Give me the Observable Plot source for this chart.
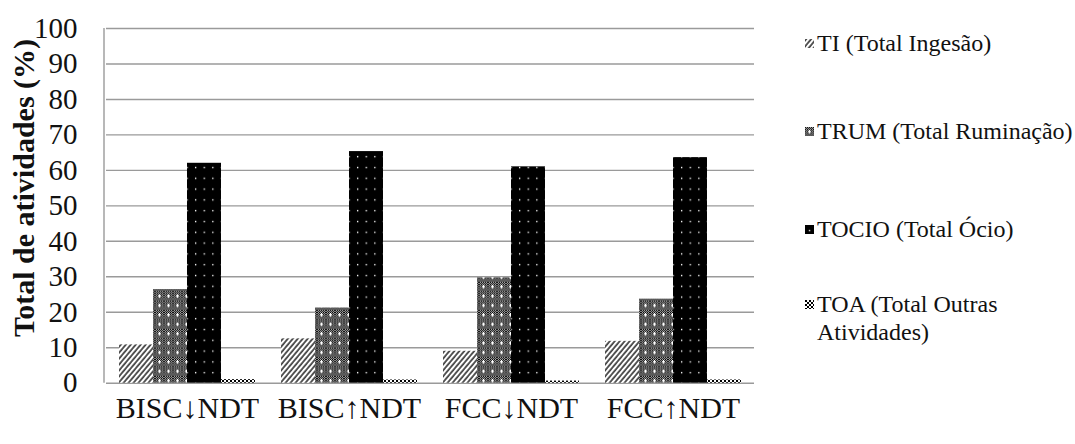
<!DOCTYPE html>
<html>
<head>
<meta charset="utf-8">
<script src="https://cdn.jsdelivr.net/npm/d3@7"></script>
<script src="https://cdn.jsdelivr.net/npm/@observablehq/plot@0.6"></script>
<style>
  body { margin: 0; background: #fff; }
  #stage {
    position: relative; width: 1075px; height: 444px;
    font-family: 'Liberation Serif'; color: #111;
  }
  #ytitle {
    position: absolute; left: 24px; top: 188px;
    transform: translate(-50%, -50%) rotate(-90deg);
    font-family: 'Liberation Serif';
    font-weight: bold; font-size: 30px; white-space: nowrap;
  }
  #legend { position: absolute; left: 805px; top: 0; }
  .item {
    position: absolute; left: 0; display: flex; align-items: flex-start;
    font-family: 'Liberation Serif';
    font-size: 24px; line-height: 28px; white-space: nowrap;
  }
  .item svg { margin-top: 9.5px; margin-right: 3px; flex: none; }
</style>
</head>
<body>
<!-- fill patterns shared by the bars and the legend swatches -->
<svg width="0" height="0" style="position:absolute">
  <defs>
    <pattern id="chk" patternUnits="userSpaceOnUse" width="2" height="2">
      <rect width="2" height="2" fill="#b4b4b4"/>
      <rect x="0" y="0" width="1" height="1" fill="#000"/>
      <rect x="1" y="1" width="1" height="1" fill="#000"/>
    </pattern>
    <pattern id="pat-ti" patternUnits="userSpaceOnUse" width="3.8" height="3.8" patternTransform="rotate(40)">
      <rect width="3.8" height="3.8" fill="#fff"/>
      <line x1="1" y1="0" x2="1" y2="3.8" stroke="#000" stroke-width="1.3"/>
    </pattern>
    <pattern id="pat-trum" patternUnits="userSpaceOnUse" width="9" height="9.4">
      <rect width="9" height="9.4" fill="url(#chk)"/>
      <rect x="3" y="4" width="3" height="1.2" fill="#fff"/>
      <rect x="4" y="2.8" width="1" height="3.6" fill="#fff"/>
    </pattern>
    <pattern id="pat-tocio" patternUnits="userSpaceOnUse" width="8.6" height="10.8">
      <rect width="8.6" height="10.8" fill="#000"/>
      <rect x="3.8" y="4.8" width="1.3" height="1.4" fill="#fff"/>
    </pattern>
    <pattern id="pat-toa" patternUnits="userSpaceOnUse" width="4" height="4">
      <rect width="4" height="4" fill="#fff"/>
      <rect x="0" y="0" width="2" height="2" fill="#000"/>
      <rect x="2" y="2" width="2" height="2" fill="#000"/>
    </pattern>
  </defs>
</svg>

<div id="stage">
  <div id="chart"></div>
  <div id="ytitle">Total de atividades (%)</div>
  <div id="legend"></div>
</div>

<script>
// Treatments (groups along the bottom)
const groups = ["BISC↓NDT", "BISC↑NDT", "FCC↓NDT", "FCC↑NDT"];

// Activity series and their legend labels
const seriesKeys = ["TI", "TRUM", "TOCIO", "TOA"];
const seriesLabels = [
  "TI (Total Ingesão)",
  "TRUM (Total Ruminação)",
  "TOCIO (Total Ócio)",
  "TOA (Total Outras<br>Atividades)"
];
const seriesFills = ["url(#pat-ti)", "url(#pat-trum)", "url(#pat-tocio)", "url(#pat-toa)"];

// Percentage of total time per activity, one value per treatment
const TI    = [10.8, 12.5,  9.0, 11.8];
const TRUM  = [26.4, 21.2, 29.7, 23.7];
const TOCIO = [62.0, 65.3, 61.0, 63.6];
const TOA   = [ 1.0,  0.9,  0.6,  0.9];

// Y axis ticks
const yTicks = [0, 10, 20, 30, 40, 50, 60, 70, 80, 90, 100];

const valuesBySeries = [TI, TRUM, TOCIO, TOA];
const data = groups.flatMap((g, i) =>
  seriesKeys.map((s, j) => ({group: g, series: s, value: valuesBySeries[j][i]}))
);

const serif = "'Liberation Serif'";
const marginLeft = 104;
const chart = Plot.plot({
  width: 1075,
  height: 444,
  marginLeft,
  marginRight: 320,
  marginTop: 28,
  marginBottom: 61.3,
  style: {fontFamily: serif, fontSize: "29px", color: "#111", background: "transparent", overflow: "visible"},
  fx: {domain: groups, padding: 0, axis: null},
  x: {domain: seriesKeys, axis: null, paddingInner: 0, paddingOuter: 0.36},
  y: {domain: [0, 100], ticks: yTicks, tickSize: 0, tickPadding: 29, label: null},
  color: {domain: seriesKeys, range: seriesFills},
  marks: [
    Plot.ruleY(yTicks, {stroke: "#9a9a9a", strokeWidth: 1.4}),
    Plot.barY(data, {fx: "group", x: "series", y: "value", fill: "series"}),
    // treatment names under each group
    Plot.text(groups, {
      fx: d => d, text: d => d, frameAnchor: "bottom", lineAnchor: "top",
      dy: 13, fontSize: 30, fontFamily: serif, fill: "#111"
    })
  ]
});

// left edge of the plotting area
const ys = chart.scale("y");
d3.select(chart).append("line")
  .attr("x1", marginLeft).attr("x2", marginLeft)
  .attr("y1", ys.apply(0)).attr("y2", ys.apply(100))
  .attr("stroke", "#9a9a9a").attr("stroke-width", 1.4);

document.getElementById("chart").append(chart);

// legend rows down the right side
const legendTops = [29, 117, 215, 290];
const legend = d3.select("#legend");
seriesKeys.forEach((k, i) => {
  const item = legend.append("div").attr("class", "item").style("top", legendTops[i] + "px");
  item.append("svg").attr("width", 9).attr("height", 9)
    .append("rect").attr("width", 9).attr("height", 9).attr("fill", seriesFills[i]);
  item.append("span").html(seriesLabels[i]);
});
</script>
</body>
</html>
